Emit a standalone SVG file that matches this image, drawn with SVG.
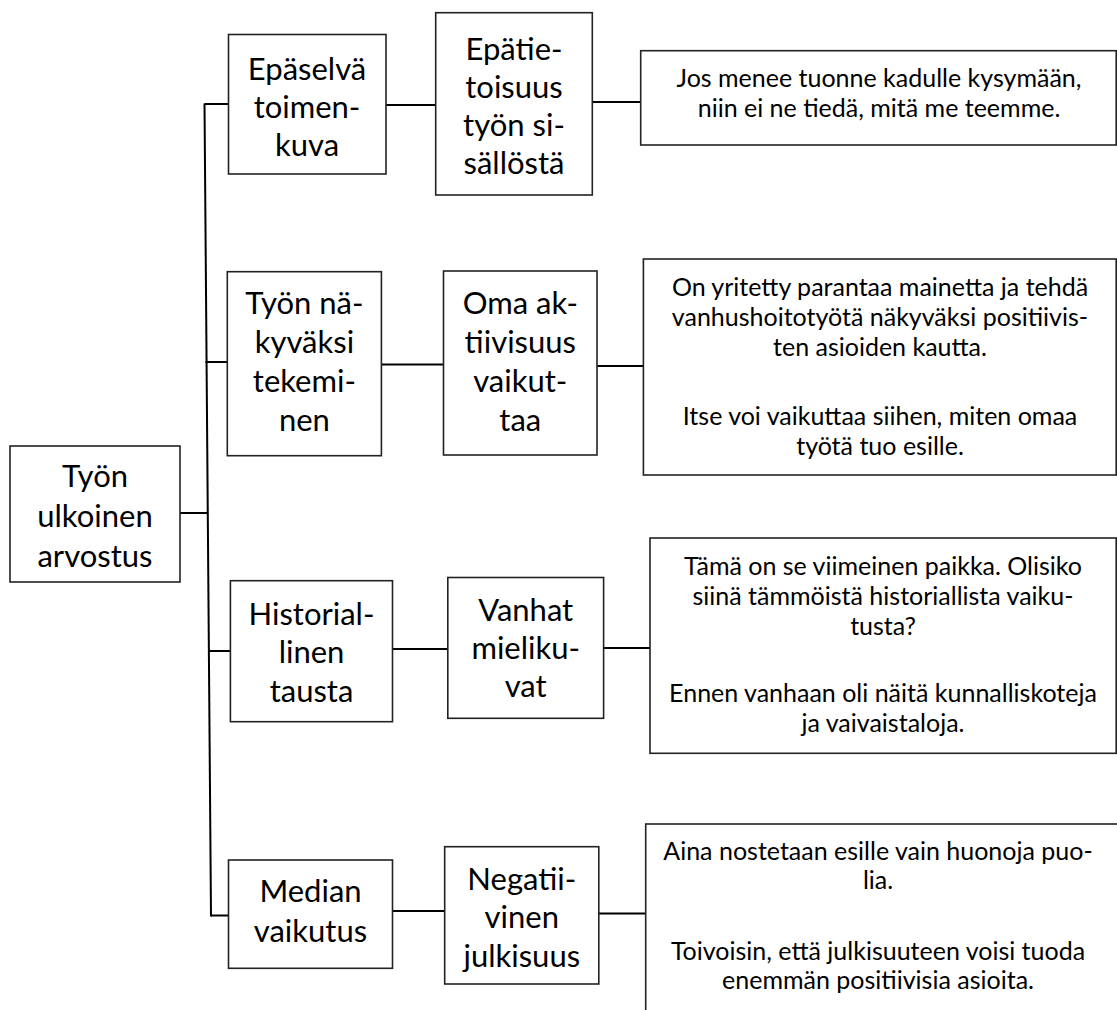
<svg xmlns="http://www.w3.org/2000/svg" width="1117" height="1010" viewBox="0 0 1117 1010">
<style>
.box{fill:#fff;stroke:#222;stroke-width:1.6}
.ln{stroke:#000;stroke-width:2;fill:none}
.n{font-family:Lato,"Liberation Sans",sans-serif;font-size:31px;fill:#000;text-anchor:middle}
.q{font-family:Lato,"Liberation Sans",sans-serif;font-size:25px;fill:#000;text-anchor:middle}
</style>
<rect width="1117" height="1010" fill="#fff"/>
<g id="connectors">
<line class="ln" x1="204.5" y1="103.5" x2="211" y2="916.5"/>
<line class="ln" x1="204.5" y1="104" x2="228.5" y2="104"/>
<line class="ln" x1="205.5" y1="362" x2="227.5" y2="362"/>
<line class="ln" x1="180" y1="513" x2="207.5" y2="513"/>
<line class="ln" x1="209" y1="651" x2="230.5" y2="651"/>
<line class="ln" x1="211" y1="915.5" x2="228.5" y2="915.5"/>
<line class="ln" x1="386" y1="105" x2="435.7" y2="105"/>
<line class="ln" x1="592.3" y1="102" x2="640.7" y2="102"/>
<line class="ln" x1="381.4" y1="364.5" x2="443.5" y2="364.5"/>
<line class="ln" x1="597" y1="366" x2="643.4" y2="366"/>
<line class="ln" x1="392.5" y1="649" x2="447.8" y2="649"/>
<line class="ln" x1="603.6" y1="648" x2="650" y2="648"/>
<line class="ln" x1="392.5" y1="911" x2="444.7" y2="911"/>
<line class="ln" x1="598.8" y1="913.5" x2="645.7" y2="913.5"/>
</g>
<g id="root">
<rect class="box" x="10" y="446" width="170" height="136"/>
<text class="n"><tspan x="95" y="487">Työn</tspan><tspan x="95" y="527">ulkoinen</tspan><tspan x="95" y="567">arvostus</tspan></text>
</g>
<g id="n1a">
<rect class="box" x="228.5" y="34.5" width="157.5" height="139.5"/>
<text class="n"><tspan x="307" y="80">Epäselvä</tspan><tspan x="307" y="118">toimen-</tspan><tspan x="307" y="156">kuva</tspan></text>
</g>
<g id="n1b">
<rect class="box" x="435.7" y="12.7" width="156.6" height="182.3"/>
<text class="n"><tspan x="514" y="60">Epätie-</tspan><tspan x="514" y="98">toisuus</tspan><tspan x="514" y="136">työn si-</tspan><tspan x="514" y="174">sällöstä</tspan></text>
</g>
<g id="q1">
<rect class="box" x="640.7" y="50.7" width="475.5" height="94.3"/>
<text class="q"><tspan x="879" y="87">Jos menee tuonne kadulle kysymään,</tspan><tspan x="879" y="117">niin ei ne tiedä, mitä me teemme.</tspan></text>
</g>
<g id="n2a">
<rect class="box" x="227.3" y="271.7" width="154.1" height="184"/>
<text class="n"><tspan x="304.4" y="313.5">Työn nä-</tspan><tspan x="304.4" y="352.5">kyväksi</tspan><tspan x="304.4" y="391.5">tekemi-</tspan><tspan x="304.4" y="430.5">nen</tspan></text>
</g>
<g id="n2b">
<rect class="box" x="443.5" y="271" width="153.5" height="184"/>
<text class="n"><tspan x="520.3" y="313.5">Oma ak-</tspan><tspan x="520.3" y="352.5">tiivisuus</tspan><tspan x="520.3" y="391.5">vaikut-</tspan><tspan x="520.3" y="430.5">taa</tspan></text>
</g>
<g id="q2">
<rect class="box" x="643.4" y="259" width="472.8" height="216"/>
<text class="q"><tspan x="880" y="296">On yritetty parantaa mainetta ja tehdä</tspan><tspan x="880" y="326">vanhushoitotyötä näkyväksi positiivis-</tspan><tspan x="880" y="356">ten asioiden kautta.</tspan><tspan x="880" y="425">Itse voi vaikuttaa siihen, miten omaa</tspan><tspan x="880" y="455">työtä tuo esille.</tspan></text>
</g>
<g id="n3a">
<rect class="box" x="230.4" y="580.7" width="162.1" height="141"/>
<text class="n"><tspan x="311.5" y="625">Historial-</tspan><tspan x="311.5" y="663">linen</tspan><tspan x="311.5" y="702">tausta</tspan></text>
</g>
<g id="n3b">
<rect class="box" x="447.8" y="577.5" width="155.8" height="140.8"/>
<text class="n"><tspan x="525.7" y="621">Vanhat</tspan><tspan x="525.7" y="659">mieliku-</tspan><tspan x="525.7" y="697">vat</tspan></text>
</g>
<g id="q3">
<rect class="box" x="650" y="538" width="466.2" height="215.3"/>
<text class="q"><tspan x="883" y="575">Tämä on se viimeinen paikka. Olisiko</tspan><tspan x="883" y="605">siinä tämmöistä historiallista vaiku-</tspan><tspan x="883" y="635">tusta?</tspan><tspan x="883" y="702">Ennen vanhaan oli näitä kunnalliskoteja</tspan><tspan x="883" y="732">ja vaivaistaloja.</tspan></text>
</g>
<g id="n4a">
<rect class="box" x="228.5" y="860" width="164" height="108.3"/>
<text class="n"><tspan x="310.5" y="902">Median</tspan><tspan x="310.5" y="942">vaikutus</tspan></text>
</g>
<g id="n4b">
<rect class="box" x="444.7" y="846.7" width="154.1" height="137.3"/>
<text class="n"><tspan x="521.8" y="890">Negatii-</tspan><tspan x="521.8" y="928">vinen</tspan><tspan x="521.8" y="967">julkisuus</tspan></text>
</g>
<g id="q4">
<rect class="box" x="645.7" y="824" width="480" height="200"/>
<text class="q"><tspan x="878" y="860">Aina nostetaan esille vain huonoja puo-</tspan><tspan x="878" y="889">lia.</tspan><tspan x="878" y="960">Toivoisin, että julkisuuteen voisi tuoda</tspan><tspan x="878" y="989">enemmän positiivisia asioita.</tspan></text>
</g>
</svg>
